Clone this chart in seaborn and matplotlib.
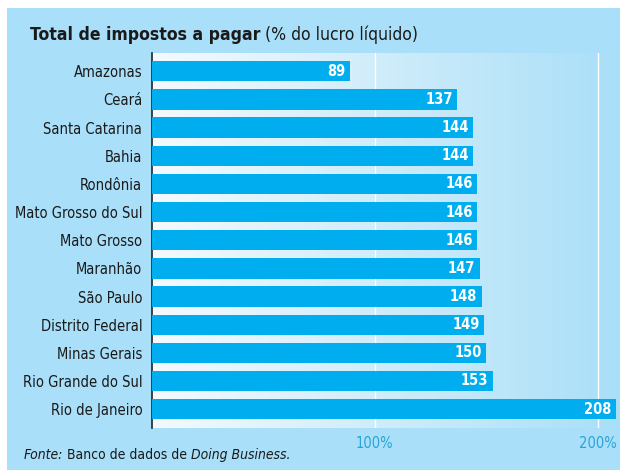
import seaborn as sns
import matplotlib.pyplot as plt
import matplotlib.patches as mpatches
from matplotlib.colors import LinearSegmentedColormap
import numpy as np
import pandas as pd

sns.set_style("white")
plt.rcParams['font.family'] = ['DejaVu Sans']
plt.rcParams['font.stretch'] = 'condensed'

# Data
states = ["Amazonas", "Ceará", "Santa Catarina", "Bahia", "Rondônia",
          "Mato Grosso do Sul", "Mato Grosso", "Maranhão", "São Paulo",
          "Distrito Federal", "Minas Gerais", "Rio Grande do Sul", "Rio de Janeiro"]
taxes = [89, 137, 144, 144, 146, 146, 146, 147, 148, 149, 150, 153, 208]
xticks = [100, 200]
xticklabels = ["100%", "200%"]

df = pd.DataFrame({"estado": states, "imposto": taxes})

panel_bg = "#A9DFF8"
bar_color = "#00AEEF"
tick_blue = "#2AA3DA"
text_col = "#1a1a1a"

fig = plt.figure(figsize=(6.2, 4.7), dpi=100)
fig.patch.set_facecolor("white")
# light blue panel
fig.patches.append(mpatches.Rectangle((7 / 620, 0), 1, 1 - 8 / 470,
                                      transform=fig.transFigure,
                                      facecolor=panel_bg, edgecolor="none", zorder=-10))

ax = fig.add_axes([152 / 620, 1 - 428 / 470, 1 - 152 / 620, (428 - 53) / 470])

# gradient background of the plotting area
grad = np.linspace(0, 1, 256).reshape(1, -1)
cmap_bg = LinearSegmentedColormap.from_list("bg", ["#F4FAFE", "#CFECFA", "#A9DFF8"])
ax.imshow(grad, cmap=cmap_bg, aspect="auto", extent=(0, 1, 0, 1),
          transform=ax.transAxes, zorder=0)

sns.barplot(data=df, x="imposto", y="estado", orient="h", color=bar_color,
            saturation=1, width=0.72, linewidth=0, edgecolor="none", ax=ax, zorder=3)

ax.set_xlim(0, 210)
ax.set_ylim(12.67, -0.65)

for xv in xticks:
    ax.axvline(xv, color="white", lw=1.0, zorder=1)

for i, v in enumerate(taxes):
    ax.text(v - 2, i, str(v), ha="right", va="center", color="white",
            fontsize=10.5, fontweight="bold", zorder=4)

ax.set_xticks(xticks)
ax.set_xticklabels(xticklabels, color=tick_blue, fontsize=10.5)
ax.tick_params(axis="x", length=0, pad=6)
ax.tick_params(axis="y", length=0, pad=7, labelsize=10.5, labelcolor=text_col)
ax.set_xlabel("")
ax.set_ylabel("")
for s in ["top", "right", "bottom"]:
    ax.spines[s].set_visible(False)
ax.spines["left"].set_color("#222222")
ax.spines["left"].set_linewidth(1.2)
ax.set_facecolor("none")

fig.canvas.draw()
r = fig.canvas.get_renderer()
inv = fig.transFigure.inverted()

# Title: bold part then regular part
x0 = 30 / 620
for s, w in [("Total de impostos a pagar", "bold"), (" (% do lucro líquido)", "normal")]:
    t = fig.text(x0, 1 - 40 / 470, s, fontsize=12.6, fontweight=w,
                 color=text_col, va="baseline")
    fig.canvas.draw()
    x0 = inv.transform((t.get_window_extent(r).x1, 0))[0]

# Footer: italic / regular / italic pieces
x0 = 24 / 620
yb = 1 - 459 / 470
for s, st in [("Fonte:", "italic"), (" Banco de dados de ", "normal"),
              ("Doing Business.", "italic")]:
    t = fig.text(x0, yb, s, fontsize=10, style=st, color=text_col, va="baseline")
    fig.canvas.draw()
    x0 = inv.transform((t.get_window_extent(r).x1, 0))[0]

fig.savefig("out.png", dpi=100)
